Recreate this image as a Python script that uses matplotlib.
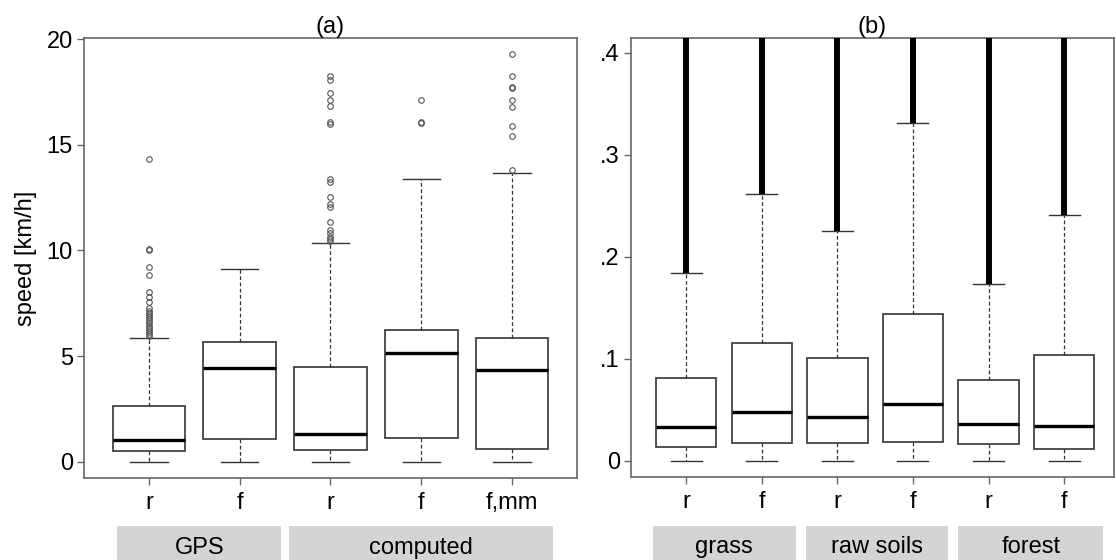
import matplotlib
matplotlib.use('Agg')
import matplotlib.pyplot as plt
import matplotlib.transforms as mtransforms
from matplotlib.patches import Rectangle

plt.rcParams['font.family'] = ['Liberation Sans', 'DejaVu Sans']

# ---- panel (a): speed [km/h]
a_ticks = ['r', 'f', 'r', 'f', 'f,mm']
a_groups = ['GPS', 'computed']
a_spans = [(0.65, 2.46), (2.54, 5.45)]
a_q1 = [0.52, 1.07, 0.55, 1.15, 0.60]
a_med = [1.03, 4.46, 1.32, 5.15, 4.35]
a_q3 = [2.66, 5.69, 4.51, 6.23, 5.85]
a_lo = [0, 0, 0, 0, 0]
a_hi = [5.86, 9.14, 10.37, 13.38, 13.65]
a_out = [
    [5.95, 6.05, 6.15, 6.25, 6.35, 6.45, 6.55, 6.65, 6.75, 6.85, 6.95, 7.05,
     7.15, 7.28, 7.58, 7.8, 8.04, 8.85, 9.2, 10.0, 10.07, 14.33],
    [],
    [10.45, 10.53, 10.65, 10.81, 10.97, 11.36, 12.04, 12.2, 12.52, 13.22,
     13.38, 15.98, 16.09, 16.83, 17.1, 17.43, 18.07, 18.25],
    [16.05, 16.09, 17.12],
    [13.8, 15.41, 15.89, 16.77, 17.12, 17.67, 17.75, 18.25, 19.27],
]

# ---- panel (b)
b_ticks = ['r', 'f', 'r', 'f', 'r', 'f']
b_groups = ['grass', 'raw soils', 'forest']
b_spans = [(0.56, 2.45), (2.58, 4.47), (4.6, 6.52)]
b_q1 = [0.0134, 0.0173, 0.018, 0.0186, 0.0163, 0.0118]
b_med = [0.0336, 0.0484, 0.0435, 0.0556, 0.0363, 0.0343]
b_q3 = [0.0814, 0.1157, 0.1013, 0.1441, 0.0794, 0.1039]
b_lo = [0, 0, 0, 0, 0, 0]
b_hi = [0.184, 0.2615, 0.2252, 0.331, 0.1732, 0.2412]
# outliers are so dense they form a solid column up past the top
b_out_top = [0.5, 0.5, 0.5, 0.5, 0.5, 0.5]

fig = plt.figure(figsize=(11.16, 5.6), dpi=100)
ax1 = fig.add_axes([84 / 1116, 82 / 560, 493 / 1116, 440 / 560])
ax2 = fig.add_axes([631 / 1116, 83 / 560, 483 / 1116, 439 / 560])

edge = '#333333'
frame = '#666666'


def draw_boxes(ax, q1, med, q3, lo, hi, fliers):
    stats = []
    for i in range(len(med)):
        stats.append({'q1': q1[i], 'med': med[i], 'q3': q3[i],
                      'whislo': lo[i], 'whishi': hi[i], 'fliers': fliers[i]})
    pos = list(range(1, len(med) + 1))
    ax.bxp(stats, positions=pos, widths=0.8, capwidths=0.41, patch_artist=True,
           boxprops=dict(facecolor='white', edgecolor=edge, linewidth=1.2),
           medianprops=dict(color='black', linewidth=2.4),
           whiskerprops=dict(color=edge, linewidth=0.9, linestyle=(0, (3, 2))),
           capprops=dict(color=edge, linewidth=1.0),
           flierprops=dict(marker='o', markerfacecolor='none', markeredgecolor='#555555',
                           markersize=4, markeredgewidth=0.8))
    return pos


def style_axes(ax, ticks, title):
    for s in ax.spines.values():
        s.set_color(frame)
        s.set_linewidth(1.2)
    ax.tick_params(axis='both', colors=frame, labelcolor='black', labelsize=17,
                   length=5, width=1)
    ax.tick_params(axis='y', pad=3)
    ax.tick_params(axis='x', pad=5)
    ax.set_xticks(range(1, len(ticks) + 1))
    ax.set_xticklabels(ticks)
    ax.set_title(title, fontsize=17, pad=3)


def draw_strips(ax, groups, spans, y0, h):
    trans = mtransforms.blended_transform_factory(ax.transData, ax.transAxes)
    for g, (x0, x1) in zip(groups, spans):
        ax.add_patch(Rectangle((x0, y0), x1 - x0, h, transform=trans,
                               facecolor='#d4d4d4', edgecolor='none', clip_on=False))
        ax.text((x0 + x1) / 2, y0 + 0.04, g, transform=trans, ha='center',
                va='center', fontsize=17)


# (a)
draw_boxes(ax1, a_q1, a_med, a_q3, a_lo, a_hi, a_out)
style_axes(ax1, a_ticks, '(a)')
ax1.set_xlim(0.284, 5.716)
ax1.set_ylim(-0.76, 20.05)
ax1.set_yticks([0, 5, 10, 15, 20])
ax1.set_ylabel('speed [km/h]', fontsize=17, labelpad=7)
draw_strips(ax1, a_groups, a_spans, -0.2, 0.091)

# (b)
pos = draw_boxes(ax2, b_q1, b_med, b_q3, b_lo, b_hi, [[]] * 6)
ax2.vlines(pos, b_hi, b_out_top, colors='black', linewidth=4.3, zorder=3)
style_axes(ax2, b_ticks, '(b)')
ax2.set_xlim(0.27, 6.66)
ax2.set_ylim(-0.0157, 0.4147)
ax2.set_yticks([0, 0.1, 0.2, 0.3, 0.4])
ax2.set_yticklabels(['0', '.1', '.2', '.3', '.4'])
draw_strips(ax2, b_groups, b_spans, -0.2, 0.088)

fig.savefig('out.png', dpi=100)
